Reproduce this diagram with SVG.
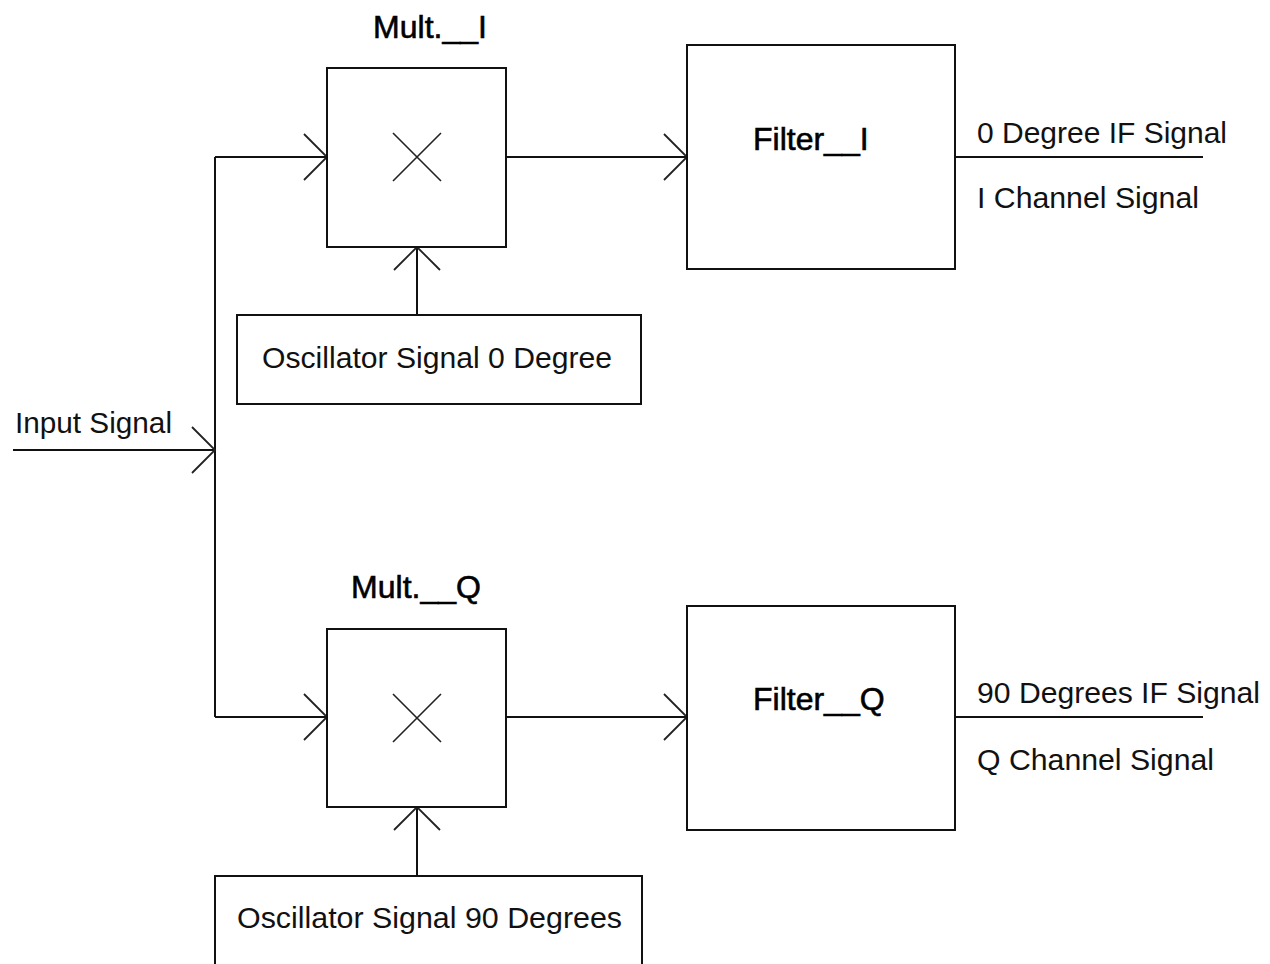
<svg xmlns="http://www.w3.org/2000/svg" width="1270" height="964" viewBox="0 0 1270 964">
<style>
.box{fill:#fff;stroke:#111;stroke-width:2}
.ln{fill:none;stroke:#111;stroke-width:2}
.x{fill:none;stroke:#222;stroke-width:1.6}
.t{font-family:"Liberation Sans",Arial,sans-serif;font-size:29px;fill:#111}
.h{font-family:"Liberation Sans",Arial,sans-serif;font-size:32px;fill:#000;stroke:#000;stroke-width:0.6}
</style>
<defs>
<marker id="ah" markerUnits="userSpaceOnUse" viewBox="-25 -25 27 50" refX="0" refY="0" markerWidth="27" markerHeight="50" orient="auto" overflow="visible">
<path d="M-23,-23 L0,0 L-23,23" fill="none" stroke="#222" stroke-width="1.8"/>
</marker>
</defs>
<rect width="1270" height="964" fill="#fff"/>
<g id="connectors">
<path class="ln" d="M215,157 V717"/>
<path class="ln" d="M13,450 H215" marker-end="url(#ah)"/>
<path class="ln" d="M215,157 H327" marker-end="url(#ah)"/>
<path class="ln" d="M215,717 H327" marker-end="url(#ah)"/>
<path class="ln" d="M506,157 H687" marker-end="url(#ah)"/>
<path class="ln" d="M506,717 H687" marker-end="url(#ah)"/>
<path class="ln" d="M417,315 V247" marker-end="url(#ah)"/>
<path class="ln" d="M417,876 V807" marker-end="url(#ah)"/>
<path class="ln" d="M955,157 H1203"/>
<path class="ln" d="M955,717 H1203"/>
</g>
<g id="mult_i">
<rect class="box" x="327" y="68" width="179" height="179"/>
<path class="x" d="M393,133 L441,181 M441,133 L393,181"/>
<text class="h" x="430" y="38" text-anchor="middle">Mult.__I</text>
</g>
<g id="filter_i">
<rect class="box" x="687" y="45" width="268" height="224"/>
<text class="h" x="753" y="150">Filter__I</text>
</g>
<g id="osc_0">
<rect class="box" x="237" y="315" width="404" height="89"/>
<text class="t" x="437" y="368" text-anchor="middle" textLength="350" lengthAdjust="spacingAndGlyphs">Oscillator Signal 0 Degree</text>
</g>
<g id="input_label">
<text class="t" x="15" y="433" textLength="157" lengthAdjust="spacingAndGlyphs">Input Signal</text>
</g>
<g id="out_i">
<text class="t" x="977" y="143" textLength="250" lengthAdjust="spacingAndGlyphs">0 Degree IF Signal</text>
<text class="t" x="977" y="208" textLength="222" lengthAdjust="spacingAndGlyphs">I Channel Signal</text>
</g>
<g id="mult_q">
<rect class="box" x="327" y="629" width="179" height="178"/>
<path class="x" d="M393,694 L441,742 M441,694 L393,742"/>
<text class="h" x="416" y="598" text-anchor="middle">Mult.__Q</text>
</g>
<g id="filter_q">
<rect class="box" x="687" y="606" width="268" height="224"/>
<text class="h" x="753" y="710">Filter__Q</text>
</g>
<g id="osc_90">
<rect class="box" x="215" y="876" width="427" height="100"/>
<text class="t" x="429.5" y="928" text-anchor="middle" textLength="385" lengthAdjust="spacingAndGlyphs">Oscillator Signal 90 Degrees</text>
</g>
<g id="out_q">
<text class="t" x="977" y="703" textLength="283" lengthAdjust="spacingAndGlyphs">90 Degrees IF Signal</text>
<text class="t" x="977" y="770" textLength="237" lengthAdjust="spacingAndGlyphs">Q Channel Signal</text>
</g>
</svg>
